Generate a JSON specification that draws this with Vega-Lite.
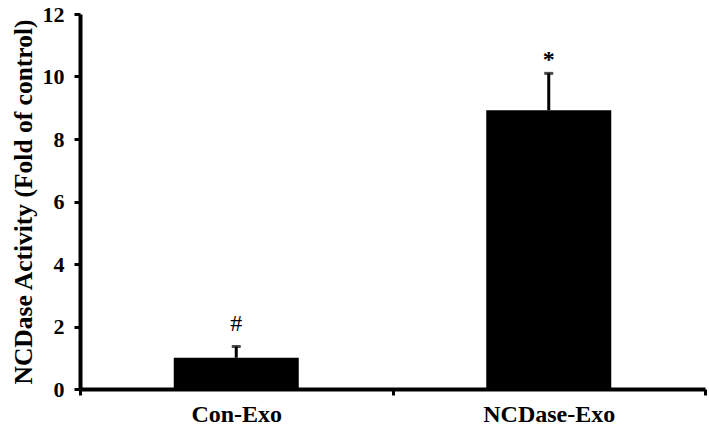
{
  "$schema": "https://vega.github.io/schema/vega-lite/v6.json",
  "width": 625,
  "height": 375,
  "autosize": {"type": "none"},
  "padding": {"left": 80, "top": 14, "right": 4, "bottom": 37},
  "background": "white",
  "config": {
    "view": {"stroke": null},
    "font": "Liberation Serif"
  },
  "data": {
    "values": [
      {"group": "Con-Exo", "mean": 1.0, "upper": 1.36, "mark": "#"},
      {"group": "NCDase-Exo", "mean": 8.92, "upper": 10.1, "mark": "*"}
    ]
  },
  "encoding": {
    "x": {
      "field": "group",
      "type": "nominal",
      "sort": null,
      "scale": {"paddingInner": 0, "paddingOuter": 0},
      "axis": {
        "title": null,
        "labelAngle": 0,
        "labelFont": "Liberation Serif",
        "labelFontWeight": "bold",
        "labelFontSize": 24,
        "labelColor": "black",
        "labelPadding": 7,
        "tickBand": "extent",
        "tickSize": 6,
        "tickWidth": 3,
        "tickColor": "black",
        "domainColor": "black",
        "domainWidth": 4,
        "grid": false
      }
    }
  },
  "layer": [
    {
      "mark": {"type": "rule", "color": "black", "strokeWidth": 3},
      "encoding": {
        "y": {"field": "mean", "type": "quantitative"},
        "y2": {"field": "upper"}
      }
    },
    {
      "mark": {"type": "tick", "color": "black", "size": 9, "thickness": 3, "orient": "horizontal"},
      "encoding": {
        "y": {"field": "upper", "type": "quantitative"}
      }
    },
    {
      "mark": {"type": "bar", "color": "black", "width": {"band": 0.4}},
      "encoding": {
        "y": {
          "field": "mean",
          "type": "quantitative",
          "scale": {"domain": [0, 12], "nice": false},
          "axis": {
            "title": "NCDase Activity (Fold of control)",
            "titleFont": "Liberation Serif",
            "titleFontWeight": "bold",
            "titleFontSize": 25.5,
            "titleColor": "black",
            "titlePadding": 6,
            "values": [0, 2, 4, 6, 8, 10, 12],
            "labelFont": "Liberation Serif",
            "labelFontWeight": "bold",
            "labelFontSize": 22,
            "labelColor": "black",
            "labelPadding": 10,
            "tickSize": 6,
            "tickWidth": 3,
            "tickColor": "black",
            "domainColor": "black",
            "domainWidth": 4,
            "grid": false
          }
        }
      }
    },
    {
      "transform": [{"filter": "datum.mark === '#'"}],
      "mark": {"type": "text", "color": "black", "fontSize": 24, "fontWeight": "normal", "font": "Liberation Serif", "baseline": "alphabetic", "dy": -16},
      "encoding": {
        "y": {"field": "upper", "type": "quantitative"},
        "text": {"field": "mark"}
      }
    },
    {
      "transform": [{"filter": "datum.mark === '*'"}],
      "mark": {"type": "text", "color": "black", "fontSize": 24, "fontWeight": "bold", "font": "Liberation Serif", "baseline": "alphabetic", "dy": -6},
      "encoding": {
        "y": {"field": "upper", "type": "quantitative"},
        "text": {"field": "mark"}
      }
    }
  ]
}
